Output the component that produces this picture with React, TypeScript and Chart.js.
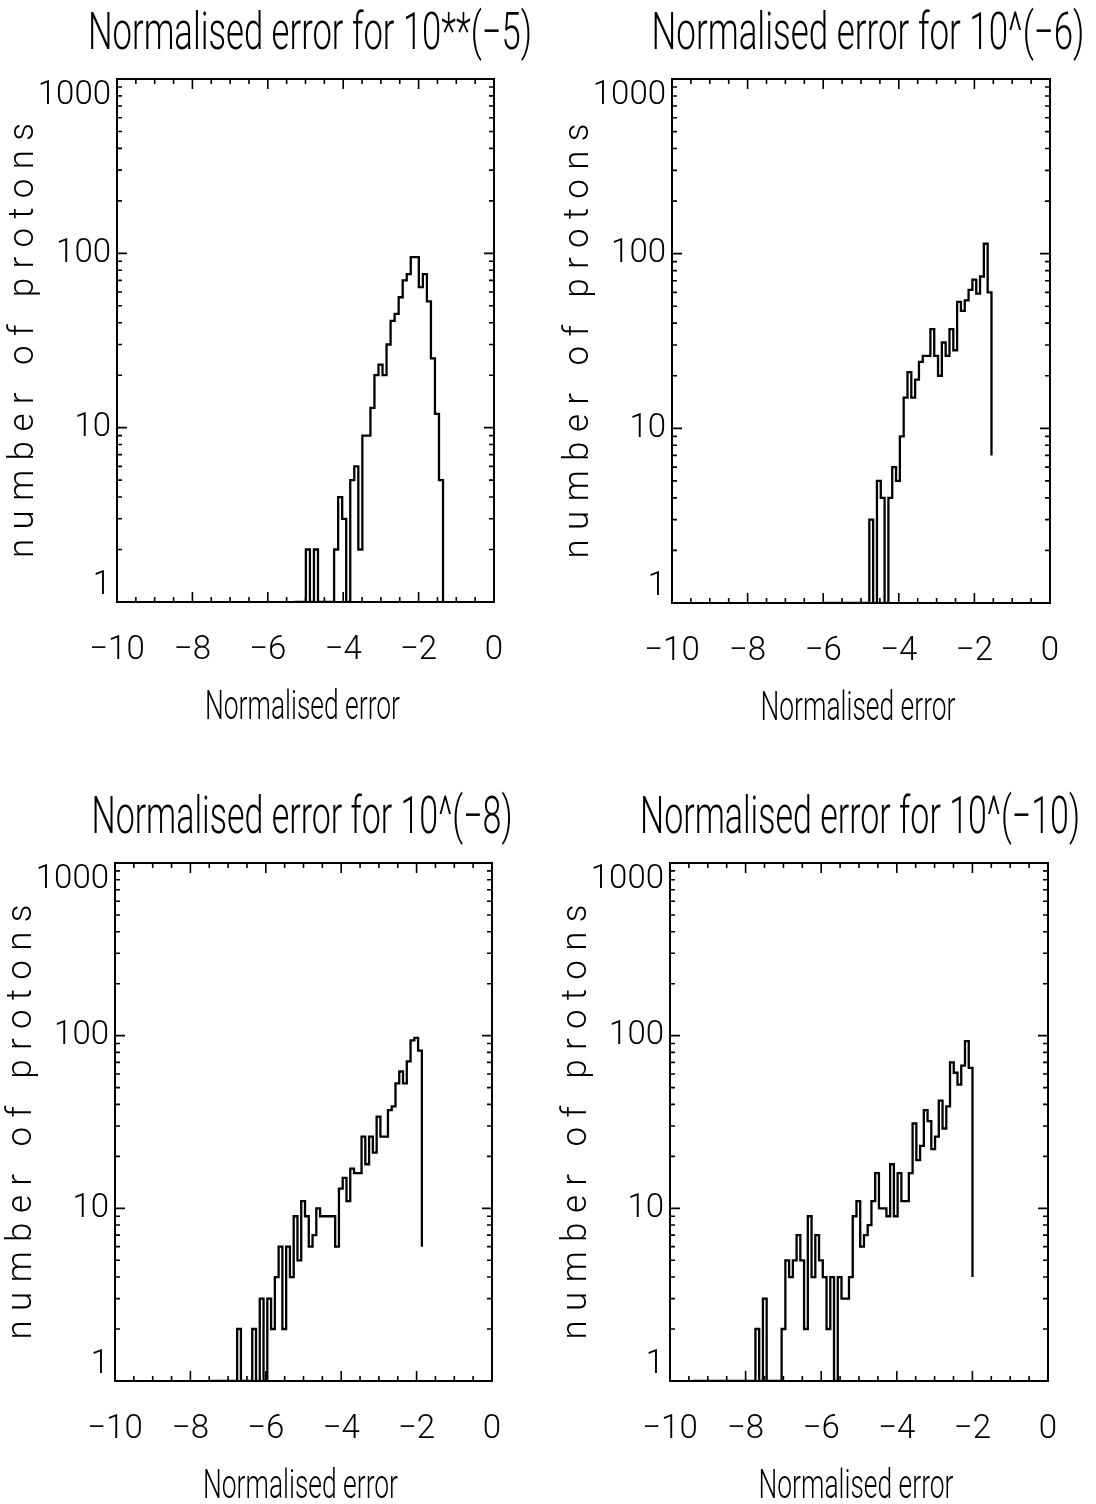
import React, { useEffect, useRef } from 'react';
import { Chart, registerables } from 'chart.js';

Chart.register(...registerables);

// ---------- text ----------
const panelTitles = [
  'Normalised error for 10**(−5)',
  'Normalised error for 10^(−6)',
  'Normalised error for 10^(−8)',
  'Normalised error for 10^(−10)',
];
const xAxisTitle = 'Normalised error';
const yAxisTitle = 'number of protons';

// ---------- axes ----------
const xTickValues = [-10, -8, -6, -4, -2, 0];
const xTickLabels = ['−10', '−8', '−6', '−4', '−2', '0'];
const yTickValues = [1, 10, 100, 1000];
const yTickLabels = ['1', '10', '100', '1000'];

// ---------- histogram data (counts per bin) ----------
// panel 1 : 10**(-5)
const p1ZeroFrom = -5.3;
const p1Start = -4.99;
const p1BinWidth = 0.107;
const p1Counts = [2, 0, 2, 0, 0, 0, 0, 2, 4, 3, 0, 5, 6, 2, 9, 9, 13, 20, 23, 20, 30, 41, 45, 56, 70, 76, 95, 95, 64, 76, 53, 25, 12, 5];
const p1EndValue = 0;

// panel 2 : 10^(-6)
const p2ZeroFrom = -6.0;
const p2Start = -4.78;
const p2BinWidth = 0.101;
const p2Counts = [3, 0, 5, 4, 0, 4, 6, 5, 9, 15, 21, 15, 19, 24, 26, 26, 37, 26, 20, 31, 26, 37, 28, 53, 47, 54, 62, 71, 59, 74, 114, 60];
const p2EndValue = 7;

// panel 3 : 10^(-8)
const p3ZeroFrom = -7.45;
const p3Start = -6.76;
const p3BinWidth = 0.1;
const p3Counts = [2, 0, 0, 0, 2, 0, 3, 0, 3, 2, 4, 6, 2, 6, 4, 9, 5, 11, 9, 6, 7, 10, 9, 9, 9, 9, 6, 13, 15, 11, 17, 16, 16, 26, 18, 26, 21, 34, 26, 26, 37, 39, 53, 62, 53, 71, 94, 97, 82];
const p3EndValue = 6;

// panel 4 : 10^(-10)
const p4ZeroFrom = -9.4;
const p4Start = -7.74;
const p4BinWidth = 0.099;
const p4Counts = [2, 0, 3, 0, 0, 0, 0, 2, 5, 4, 5, 7, 5, 2, 9, 4, 7, 5, 4, 2, 4, 0, 4, 3, 3, 4, 9, 11, 6, 7, 8, 11, 16, 10, 10, 9, 18, 9, 16, 11, 11, 16, 31, 19, 23, 37, 32, 22, 26, 42, 29, 39, 70, 61, 52, 67, 93, 65];
const p4EndValue = 4;

const panels = [
  { title: panelTitles[0], zeroFrom: p1ZeroFrom, start: p1Start, bin: p1BinWidth, counts: p1Counts, end: p1EndValue },
  { title: panelTitles[1], zeroFrom: p2ZeroFrom, start: p2Start, bin: p2BinWidth, counts: p2Counts, end: p2EndValue },
  { title: panelTitles[2], zeroFrom: p3ZeroFrom, start: p3Start, bin: p3BinWidth, counts: p3Counts, end: p3EndValue },
  { title: panelTitles[3], zeroFrom: p4ZeroFrom, start: p4Start, bin: p4BinWidth, counts: p4Counts, end: p4EndValue },
];

// ---------- layout (page pixels) ----------
const PAGE_W = 1096;
const PAGE_H = 1504;
const CELL_W = 548;
const CELL_H = 752;
const plotBoxes = [
  { left: 117, top: 79, right: 494, bottom: 602 },
  { left: 672, top: 79, right: 1050, bottom: 603 },
  { left: 115, top: 863, right: 492, bottom: 1381 },
  { left: 670, top: 863, right: 1048, bottom: 1381 },
];
// title placement: centre x (page) and drawn width
const titleBoxes = [
  { cx: 310, width: 444 },
  { cx: 868, width: 433 },
  { cx: 302, width: 421 },
  { cx: 860, width: 440 },
];

const X_MIN = -10, X_MAX = 0, X_MINOR = 0.5, X_MAJOR = 2;
const Y_MIN = 1, Y_MAX = 1000;

const FONT = 'Roboto, "Liberation Sans", Arial, sans-serif';
const WEIGHT = 300;

function frameTicksPlugin() {
  return {
    id: 'frameTicks',
    afterDraw(chart: any) {
      const { ctx, chartArea: a, scales } = chart;
      const x = scales.x, y = scales.y;
      ctx.save();
      ctx.strokeStyle = '#000';
      ctx.lineWidth = 2;
      ctx.strokeRect(a.left, a.top, a.right - a.left, a.bottom - a.top);
      ctx.lineWidth = 1.6;
      ctx.beginPath();
      for (let v = X_MIN; v <= X_MAX + 1e-9; v += X_MINOR) {
        const px = x.getPixelForValue(v);
        const major = Math.abs(v / X_MAJOR - Math.round(v / X_MAJOR)) < 1e-6;
        const len = major ? 10 : 5;
        ctx.moveTo(px, a.bottom);
        ctx.lineTo(px, a.bottom - len);
        ctx.moveTo(px, a.top);
        ctx.lineTo(px, a.top + len);
      }
      for (let d = Y_MIN; d < Y_MAX; d *= 10) {
        for (let m = 1; m <= 10; m++) {
          const v = d * m;
          const py = y.getPixelForValue(v);
          const len = m === 1 || m === 10 ? 10 : 5;
          ctx.moveTo(a.left, py);
          ctx.lineTo(a.left + len, py);
          ctx.moveTo(a.right, py);
          ctx.lineTo(a.right - len, py);
        }
      }
      ctx.stroke();
      ctx.restore();
    },
  };
}

function drawFitted(ctx: CanvasRenderingContext2D, text: string, size: number, cx: number, baseY: number, width: number) {
  ctx.save();
  ctx.font = `${WEIGHT} ${size}px ${FONT}`;
  ctx.textAlign = 'center';
  ctx.textBaseline = 'alphabetic';
  const w = ctx.measureText(text).width;
  ctx.translate(cx, baseY);
  ctx.scale(width / w, 1);
  ctx.fillText(text, 0, 0);
  ctx.restore();
}

function paperTextPlugin(idx: number, ox: number) {
  return {
    id: 'paperText',
    afterDraw(chart: any) {
      const { ctx, chartArea: a } = chart;
      const cx = (a.left + a.right) / 2;
      ctx.save();
      ctx.fillStyle = '#000';
      const tb = titleBoxes[idx];
      drawFitted(ctx, panels[idx].title, 51, tb.cx - ox, a.top - 30, tb.width);
      drawFitted(ctx, xAxisTitle, 41, cx - 3, a.bottom + 117, 195);
      // y title, spaced out
      ctx.save();
      ctx.font = `${WEIGHT} 35px ${FONT}`;
      const natural = ctx.measureText(yAxisTitle).width;
      const spacing = (435 - natural) / (yAxisTitle.length - 1);
      (ctx as any).letterSpacing = `${spacing.toFixed(2)}px`;
      ctx.textAlign = 'center';
      ctx.textBaseline = 'alphabetic';
      ctx.translate(a.left - 84, (a.top + a.bottom) / 2);
      ctx.rotate(-Math.PI / 2);
      ctx.fillText(yAxisTitle, spacing / 2, 0);
      ctx.restore();
      ctx.restore();
    },
  };
}

function Panel({ idx }: { idx: number }) {
  const ref = useRef<HTMLCanvasElement>(null);
  const ox = (idx % 2) * CELL_W;
  const oy = Math.floor(idx / 2) * CELL_H;

  useEffect(() => {
    const spec = panels[idx];
    const box = plotBoxes[idx];
    const L = box.left - ox, T = box.top - oy, R = box.right - ox, B = box.bottom - oy;
    const yAxisW = 100;
    const xAxisH = 80;
    const floor = (c: number) => Math.max(c, Y_MIN);
    const pts = [
      { x: spec.zeroFrom, y: Y_MIN },
      ...spec.counts.map((c, i) => ({ x: spec.start + i * spec.bin, y: floor(c) })),
      { x: spec.start + spec.counts.length * spec.bin, y: floor(spec.end) },
    ];
    const tickFont = { family: FONT, size: 33, weight: WEIGHT };
    const chart = new Chart(ref.current as HTMLCanvasElement, {
      type: 'line',
      data: {
        datasets: [
          {
            data: pts,
            stepped: true,
            borderColor: '#000',
            borderWidth: 2.3,
            pointRadius: 0,
            fill: false,
          },
        ],
      },
      options: {
        responsive: false,
        animation: false,
        devicePixelRatio: 1,
        layout: { padding: { left: L - yAxisW, top: T, right: CELL_W - R, bottom: CELL_H - B - xAxisH } },
        plugins: { legend: { display: false }, title: { display: false }, tooltip: { enabled: false } },
        scales: {
          x: {
            type: 'linear',
            min: X_MIN,
            max: X_MAX,
            afterBuildTicks: (s: any) => {
              s.ticks = xTickValues.map((v) => ({ value: v }));
            },
            afterFit: (s: any) => {
              s.height = xAxisH;
            },
            grid: { display: false, drawTicks: false },
            border: { display: false },
            ticks: {
              autoSkip: false,
              maxRotation: 0,
              padding: 29,
              color: '#000',
              font: tickFont,
              callback: (_v: any, i: number) => xTickLabels[i],
            },
          },
          y: {
            type: 'logarithmic',
            min: Y_MIN,
            max: Y_MAX,
            afterBuildTicks: (s: any) => {
              s.ticks = yTickValues.map((v) => ({ value: v }));
            },
            afterFit: (s: any) => {
              s.width = yAxisW;
            },
            grid: { display: false, drawTicks: false },
            border: { display: false },
            ticks: {
              autoSkip: false,
              padding: 6,
              color: '#000',
              font: { ...tickFont, lineHeight: 1.0 },
              callback: (_v: any, i: number) => {
                const lab = yTickLabels[i];
                if (i === 0) return [lab, ''];
                if (i === yTickLabels.length - 1) return ['', lab];
                return lab;
              },
            },
          },
        },
      } as any,
      plugins: [frameTicksPlugin(), paperTextPlugin(idx, ox)],
    });
    return () => chart.destroy();
  }, [idx]);

  return (
    <canvas
      ref={ref}
      width={CELL_W}
      height={CELL_H}
      style={{ position: 'absolute', left: ox, top: oy, width: CELL_W, height: CELL_H }}
    />
  );
}

export default function App() {
  return (
    <div style={{ position: 'absolute', left: 0, top: 0, width: PAGE_W, height: PAGE_H, background: '#fff', overflow: 'hidden' }}>
      {[0, 1, 2, 3].map((i) => (
        <Panel key={i} idx={i} />
      ))}
    </div>
  );
}
